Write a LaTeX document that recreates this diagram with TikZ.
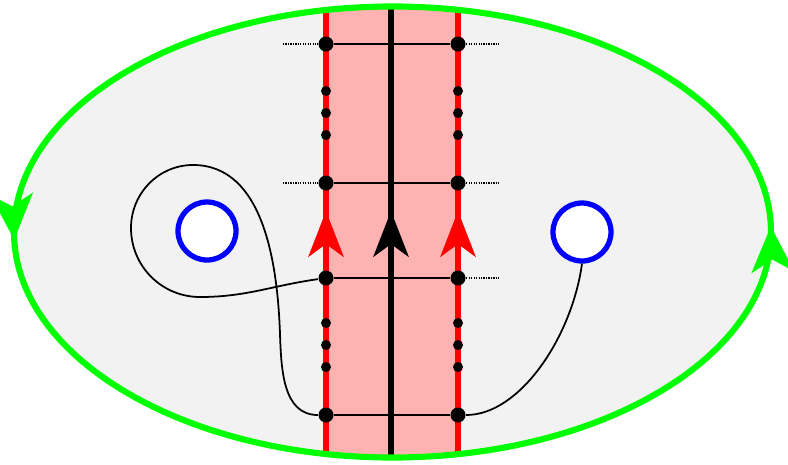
\documentclass[tikz,border=0pt]{standalone}
\usepackage{tikz}
\usepackage{xcolor}
\usetikzlibrary{arrows.meta,decorations.markings}

\begin{document}
\begin{tikzpicture}[
  dot/.style={circle, fill=black, inner sep=0pt, minimum size=0.15cm},
  small_dot/.style={circle, fill=black, inner sep=0pt, minimum size=0.10cm},
  hole/.style={circle, draw=blue, line width=1.5pt, fill=white, inner sep=0pt, minimum size=0.58cm},
  rung/.style={line width=0.5pt},
  guide/.style={line width=0.5pt, dash pattern=on 0.35pt off 0.35pt},
  strand/.style={line width=0.5pt},
  up_arrow/.style={postaction={decorate}, decoration={markings,
    mark=at position 2.53cm with {\arrow{Stealth[length=13pt, width=10pt, inset=3.6pt]}}}}
]
  \useasboundingbox (0,0) rectangle (7.88,4.64);

  % surface
  \fill[black!5] (3.925,2.32) ellipse [x radius=3.785, y radius=2.255];

  \coordinate (left_foot) at (3.26,0);
  \coordinate (left_head) at (3.26,4.64);
  \coordinate (right_foot) at (4.58,0);
  \coordinate (right_head) at (4.58,4.64);
  \coordinate (axis_foot) at (3.91,0);
  \coordinate (axis_head) at (3.91,4.64);

  % band
  \begin{scope}
    \clip (3.925,2.32) ellipse [x radius=3.785, y radius=2.255];
    \fill[red!30] (left_foot) rectangle (right_head);
    \draw[red, line width=1.65pt, up_arrow] (left_foot) -- (left_head);
    \draw[red, line width=1.65pt, up_arrow] (right_foot) -- (right_head);
    \draw[black, line width=1.65pt, up_arrow] (axis_foot) -- (axis_head);
  \end{scope}

  % holes
  \node[hole] (left_hole) at (2.07,2.33) {};
  \node[hole] (right_hole) at (5.82,2.32) {};

  % points on the band
  \node[dot] (left_top) at (3.26,4.20) {};
  \node[dot] (right_top) at (4.58,4.20) {};
  \node[dot] (left_upper) at (3.26,2.81) {};
  \node[dot] (right_upper) at (4.58,2.81) {};
  \node[dot] (left_lower) at (3.26,1.86) {};
  \node[dot] (right_lower) at (4.58,1.86) {};
  \node[dot] (left_bottom) at (3.26,0.49) {};
  \node[dot] (right_bottom) at (4.58,0.49) {};

  \node[small_dot] (left_dot1) at (3.26,3.73) {};
  \node[small_dot] (left_dot2) at (3.26,3.51) {};
  \node[small_dot] (left_dot3) at (3.26,3.29) {};
  \node[small_dot] (right_dot1) at (4.58,3.73) {};
  \node[small_dot] (right_dot2) at (4.58,3.51) {};
  \node[small_dot] (right_dot3) at (4.58,3.29) {};
  \node[small_dot] (left_dot4) at (3.26,1.41) {};
  \node[small_dot] (left_dot5) at (3.26,1.19) {};
  \node[small_dot] (left_dot6) at (3.26,0.97) {};
  \node[small_dot] (right_dot4) at (4.58,1.41) {};
  \node[small_dot] (right_dot5) at (4.58,1.19) {};
  \node[small_dot] (right_dot6) at (4.58,0.97) {};

  \coordinate (left_top_end) at (2.83,4.20);
  \coordinate (right_top_end) at (5.00,4.20);
  \coordinate (left_upper_end) at (2.83,2.81);
  \coordinate (right_upper_end) at (5.00,2.81);
  \coordinate (right_lower_end) at (5.00,1.86);

  \draw[rung] (left_top) -- (right_top);
  \draw[rung] (left_upper) -- (right_upper);
  \draw[rung] (left_lower) -- (right_lower);
  \draw[rung] (left_bottom) -- (right_bottom);

  \draw[guide] (left_top_end) -- (left_top);
  \draw[guide] (right_top) -- (right_top_end);
  \draw[guide] (left_upper_end) -- (left_upper);
  \draw[guide] (right_upper) -- (right_upper_end);
  \draw[guide] (right_lower) -- (right_lower_end);

  % arcs round the holes
  \draw[strand] (left_bottom) to[out=180, in=-88] (2.80,1.30)
    to[out=92, in=0, looseness=0.95] (1.93,2.99)
    to[out=180, in=90] (1.31,2.36)
    to[out=-90, in=180] (2.00,1.67)
    to[out=0, in=188] (left_lower);
  \draw[strand] (right_bottom) .. controls +(0.62,0) and +(-0.1,-0.73) .. (right_hole.south);

  % boundary
  \draw[green, line width=1.75pt, postaction={decorate}, decoration={markings,
    mark=at position 0.003 with {\arrow{Stealth[length=13pt, width=12pt, inset=3.5pt]}},
    mark=at position 0.504 with {\arrow{Stealth[length=13pt, width=12pt, inset=3.5pt]}}}]
    (3.925,2.32) ellipse [x radius=3.785, y radius=2.255];
\end{tikzpicture}
\end{document}
